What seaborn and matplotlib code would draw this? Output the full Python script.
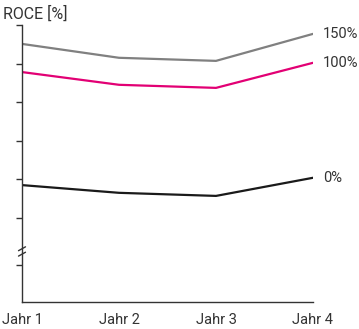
import matplotlib
matplotlib.use("Agg")
import matplotlib.pyplot as plt
import seaborn as sns
import pandas as pd

# Data (arbitrary scaled units)
years = ["Jahr 1", "Jahr 2", "Jahr 3", "Jahr 4"]
series_names = ["150%", "100%", "0%"]
vals_150 = [5.51, 5.15, 5.07, 5.77]
vals_100 = [4.78, 4.45, 4.37, 5.02]
vals_0 = [1.85, 1.65, 1.57, 2.04]
colors = ["#808080", "#E20074", "#1a1a1a"]
y_label = "ROCE [%]"

sns.set_theme(style="white")
plt.rcParams["font.family"] = ["Roboto", "DejaVu Sans"]

rows = []
for name, vals in zip(series_names, [vals_150, vals_100, vals_0]):
    for i, v in enumerate(vals):
        rows.append({"x": i, "Jahr": years[i], "value": v, "series": name})
df = pd.DataFrame(rows)

fig = plt.figure(figsize=(3.59, 3.29), dpi=100)
ax = fig.add_axes([22/359, 1-302/329, (313-22)/359, (302-25)/329])

sns.lineplot(data=df, x="x", y="value", hue="series", palette=colors,
             hue_order=series_names, linewidth=1.6, ax=ax, legend=False)

ax.set_xlim(0, 3)
ax.set_ylim(-1.18, 6.0)
ax.set_xticks(range(len(years)))
ax.set_xticklabels(years, fontsize=10.5, color="#333333")
ax.tick_params(axis="x", length=0, pad=8)
ax.set_yticks([-0.22, 1, 2, 3, 4, 5, 6])
ax.set_yticklabels([])
ax.tick_params(axis="y", length=4, width=1, color="#333333", direction="out", left=True)
ax.set_xlabel("")
ax.set_ylabel("")
for s in ["top", "right"]:
    ax.spines[s].set_visible(False)
for s in ["left", "bottom"]:
    ax.spines[s].set_color("#333333")
    ax.spines[s].set_linewidth(1.0)

# axis break mark
trans = ax.get_yaxis_transform()
for yb in [0.06, 0.2]:
    ax.plot([-0.012, 0.012], [yb - 0.05, yb + 0.05], transform=trans,
            color="#333333", lw=1.0, clip_on=False)

# end labels
for name, vals, c in zip(series_names, [vals_150, vals_100, vals_0], colors):
    ax.annotate(name, xy=(3, vals[-1]), xytext=(7, 0), textcoords="offset points",
                va="center", ha="left", fontsize=10.5, color="#333333",
                annotation_clip=False)

fig.text(3/359, 1-14/329, y_label, fontsize=11.5, color="#333333", va="center", ha="left")

fig.savefig("out.png", dpi=100)
